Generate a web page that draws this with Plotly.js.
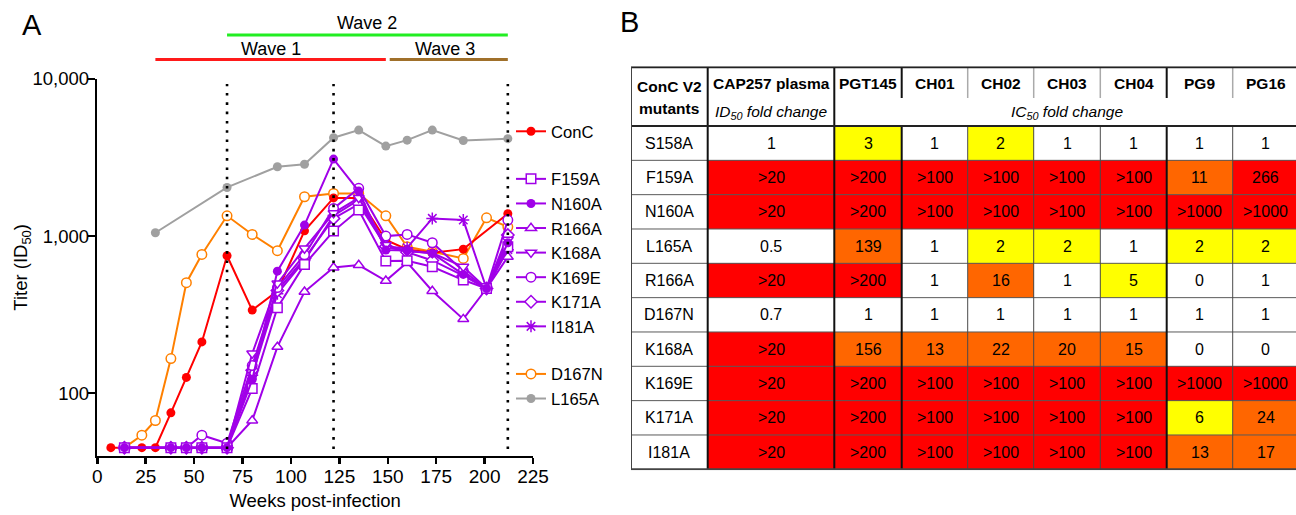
<!DOCTYPE html>
<html>
<head>
<meta charset="utf-8">
<script src="https://cdn.plot.ly/plotly-3.0.1.min.js"></script>
<style>html,body{margin:0;padding:0;background:#fff}#chart{width:1296px;height:515px}</style>
</head>
<body>
<div id="chart"></div>
<script>
// ---------- Panel A data ----------
const weeksConC = [7, 23, 30, 38, 46, 54, 67, 80, 93, 107, 122, 135, 149, 160, 173, 189, 212];
const titerConC = [45, 45, 45, 75, 126, 212, 750, 338, 447, 1080, 1750, 1750, 944, 822, 783, 826, 1387];

const weeksL165A = [30, 67, 93, 107, 122, 135, 149, 160, 173, 189, 212];
const titerL165A = [1050, 2040, 2765, 2865, 4230, 4730, 3740, 4080, 4730, 4060, 4170];

const weeksD167N = [14, 23, 30, 38, 46, 54, 67, 80, 93, 107, 122, 135, 149, 160, 173, 189, 201, 212];
const titerD167N = [45, 54, 67, 166, 505, 764, 1346, 1024, 807, 1780, 1870, 1870, 1346, 855, 795, 721, 1308, 1146];

const weeksPurple = [14, 38, 46, 54, 67, 80, 93, 107, 122, 135, 149, 160, 173, 189, 201, 212];
const titerF159A = [45, 45, 45, 45, 45, 107, 350, 660, 1076, 1465, 693, 696, 638, 525, 464, 855];
const titerN160A = [45, 45, 45, 45, 45, 122, 598, 1175, 3090, 1935, 815, 810, 776, 570, 464, 907];
const titerR166A = [45, 45, 45, 45, 45, 67, 197, 442, 631, 654, 519, 680, 447, 296, 464, 738];
const titerK168A = [45, 45, 45, 45, 45, 179, 500, 835, 1400, 1750, 880, 800, 780, 638, 464, 950];
const titerK169E = [45, 45, 45, 54, 48, 150, 470, 760, 1500, 2013, 1000, 1025, 907, 600, 464, 1265];
const titerK171A = [45, 45, 45, 45, 45, 140, 450, 720, 1296, 1600, 860, 790, 700, 560, 464, 1015];
const titerI181A = [45, 45, 45, 45, 45, 130, 430, 700, 1350, 1700, 850, 843, 1296, 1265, 464, 820];

const xTicks = [0, 25, 50, 75, 100, 125, 150, 175, 200, 225];
const yTickVals = [100, 1000, 10000];
const yTickText = ['100', '1,000', '10,000'];

const dottedWeeks = [67, 122, 212];
const waveNames = ['Wave 1', 'Wave 2', 'Wave 3'];
const waveStart = [30, 67, 151];
const waveEnd = [149, 212, 212];

// ---------- Panel B data ----------
const mutants = ['S158A', 'F159A', 'N160A', 'L165A', 'R166A', 'D167N', 'K168A', 'K169E', 'K171A', 'I181A'];
const columns = ['CAP257 plasma', 'PGT145', 'CH01', 'CH02', 'CH03', 'CH04', 'PG9', 'PG16'];
const cap257 = ['1', '>20', '>20', '0.5', '>20', '0.7', '>20', '>20', '>20', '>20'];
const pgt145 = ['3', '>200', '>200', '139', '>200', '1', '156', '>200', '>200', '>200'];
const ch01 = ['1', '>100', '>100', '1', '1', '1', '13', '>100', '>100', '>100'];
const ch02 = ['2', '>100', '>100', '2', '16', '1', '22', '>100', '>100', '>100'];
const ch03 = ['1', '>100', '>100', '2', '1', '1', '20', '>100', '>100', '>100'];
const ch04 = ['1', '>100', '>100', '1', '5', '1', '15', '>100', '>100', '>100'];
const pg9 = ['1', '11', '>1000', '2', '0', '1', '0', '>1000', '6', '13'];
const pg16 = ['1', '266', '>1000', '2', '1', '1', '0', '>1000', '24', '17'];

// ---------- styling / layout constants ----------
const W = 1296, H = 515;
const FONT = 'Liberation Sans, Arial, sans-serif';
const RED = '#FF0000', PURPLE = '#A000E8', ORANGE = '#FF8000', GRAY = '#A0A0A0';

// table geometry in pixel units (axes x2/y2 are set up in page pixels)
const colEdges = [631, 707.7, 834.3, 901.7, 967.7, 1033.7, 1100.3, 1166.7, 1232.7, 1299];
const tTop = 67.3, hdrMid = 98, hdrBot = 126, tBot = 469.3;

function px(x) { return x / W; }
function py(y) { return (H - y) / H; }

function seriesTrace(name, x, y, symbol, filled, color, group, rank) {
  const open = symbol.indexOf('-open') > 0;
  return {
    type: 'scatter', mode: 'lines+markers', name: name, x: x, y: y,
    xaxis: 'x', yaxis: 'y', legendgroup: group, legendrank: rank,
    line: {color: color, width: 2},
    marker: {
      symbol: symbol, size: filled ? 9 : (open ? 10 : 9.5),
      color: (filled || open) ? color : '#FFFFFF',
      line: {color: color, width: filled ? 0 : 1.5}
    },
    hoverinfo: 'skip'
  };
}

// drawing order (bottom to top); legend order is set by legendrank
const traces = [
  seriesTrace('L165A', weeksL165A, titerL165A, 'circle', true, GRAY, 'c', 10),
  seriesTrace('D167N', weeksD167N, titerD167N, 'circle', false, ORANGE, 'c', 9),
  seriesTrace('ConC', weeksConC, titerConC, 'circle', true, RED, 'a', 1),
  seriesTrace('I181A', weeksPurple, titerI181A, 'asterisk-open', false, PURPLE, 'b', 8),
  seriesTrace('K171A', weeksPurple, titerK171A, 'diamond', false, PURPLE, 'b', 7),
  seriesTrace('K169E', weeksPurple, titerK169E, 'circle', false, PURPLE, 'b', 6),
  seriesTrace('K168A', weeksPurple, titerK168A, 'triangle-down', false, PURPLE, 'b', 5),
  seriesTrace('R166A', weeksPurple, titerR166A, 'triangle-up', false, PURPLE, 'b', 4),
  seriesTrace('F159A', weeksPurple, titerF159A, 'square', false, PURPLE, 'b', 2),
  seriesTrace('N160A', weeksPurple, titerN160A, 'circle', true, PURPLE, 'b', 3)
];

// ---------- table heatmap ----------
const tableCols = [cap257, pgt145, ch01, ch02, ch03, ch04, pg9, pg16];
function level(s) {
  if (s.indexOf('>') === 0) return 3;
  const v = parseFloat(s);
  if (v > 200) return 3;
  if (v >= 10) return 2;
  if (v >= 2) return 1;
  return 0;
}
const rowH = (tBot - hdrBot) / mutants.length;
const rowEdges = [];
for (let i = 0; i <= mutants.length; i++) rowEdges.push(hdrBot + i * rowH);
const z = mutants.map((m, i) => [0].concat(tableCols.map(c => level(c[i]))));

traces.push({
  type: 'heatmap', x: colEdges, y: rowEdges, z: z, xaxis: 'x2', yaxis: 'y2',
  zmin: 0, zmax: 3, showscale: false, hoverinfo: 'skip', showlegend: false,
  colorscale: [[0, '#FFFFFF'], [0.25, '#FFFFFF'], [0.25, '#FFFF00'], [0.5, '#FFFF00'],
               [0.5, '#FF6600'], [0.75, '#FF6600'], [0.75, '#FF0000'], [1, '#FF0000']]
});

const annotations = [];
const shapes = [];

// panel letters
annotations.push({xref: 'paper', yref: 'paper', x: px(32), y: py(25), text: 'A', showarrow: false,
  font: {family: FONT, size: 29, color: '#000'}, xanchor: 'center', yanchor: 'middle'});
annotations.push({xref: 'paper', yref: 'paper', x: px(629), y: py(22), text: 'B', showarrow: false,
  font: {family: FONT, size: 29, color: '#000'}, xanchor: 'center', yanchor: 'middle'});

// waves
const waveColors = ['#FF1A1A', '#22EE22', '#A0702A'];
const waveLineY = [59.5, 35, 59.5];
const waveTextY = [48.5, 23, 48.5];
waveNames.forEach((n, i) => {
  shapes.push({type: 'line', xref: 'x', yref: 'paper', x0: waveStart[i], x1: waveEnd[i],
    y0: py(waveLineY[i]), y1: py(waveLineY[i]), line: {color: waveColors[i], width: 3}});
  annotations.push({xref: 'x', yref: 'paper', x: (waveStart[i] + waveEnd[i]) / 2 - (i === 2 ? 2 : 0),
    y: py(waveTextY[i]), yanchor: 'middle', text: n, showarrow: false,
    font: {family: FONT, size: 18, color: '#000'}});
});

// dotted vertical lines
dottedWeeks.forEach(w => {
  shapes.push({type: 'line', xref: 'x', yref: 'paper', x0: w, x1: w, y0: py(449), y1: py(84),
    line: {color: '#000', width: 2.6, dash: '2.6px,6.7px'}});
});

// table text
function colCenter(j) { return (colEdges[j] + colEdges[j + 1]) / 2; }
const bodyFont = {family: FONT, size: 16, color: '#000'};
mutants.forEach((m, i) => {
  const yc = hdrBot + rowH * (i + 0.5);
  annotations.push({xref: 'x2', yref: 'y2', x: colCenter(0), y: yc, text: m, showarrow: false, font: bodyFont});
  tableCols.forEach((c, j) => {
    annotations.push({xref: 'x2', yref: 'y2', x: colCenter(j + 1), y: yc, text: c[i], showarrow: false, font: bodyFont});
  });
});
const hdrFont = {family: FONT, size: 15.5, color: '#000', weight: 'bold'};
annotations.push({xref: 'x2', yref: 'y2', x: colCenter(0), y: 86.7, text: '<b>ConC V2</b>', showarrow: false, font: hdrFont});
annotations.push({xref: 'x2', yref: 'y2', x: colCenter(0), y: 108.3, text: '<b>mutants</b>', showarrow: false, font: hdrFont});
columns.forEach((c, j) => {
  annotations.push({xref: 'x2', yref: 'y2', x: colCenter(j + 1), y: 83, text: '<b>' + c + '</b>', showarrow: false, font: hdrFont});
});
const itFont = {family: FONT, size: 15.5, color: '#000', style: 'italic'};
annotations.push({xref: 'x2', yref: 'y2', x: colCenter(1), y: 112, text: '<i>ID<sub>50</sub> fold change</i>', showarrow: false, font: itFont});
annotations.push({xref: 'x2', yref: 'y2', x: (colEdges[2] + colEdges[9]) / 2, y: 112, text: '<i>IC<sub>50</sub> fold change</i>', showarrow: false, font: itFont});

// table lines
function tl(x0, y0, x1, y1, color, width) {
  shapes.push({type: 'line', xref: 'x2', yref: 'y2', x0: x0, y0: y0, x1: x1, y1: y1, line: {color: color, width: width}});
}
for (let i = 1; i < mutants.length; i++) tl(colEdges[0], rowEdges[i], colEdges[9], rowEdges[i], '#5a5a5a', 1);
const thickV = [1, 2, 3, 7];
for (let j = 1; j < 9; j++) {
  const thick = thickV.indexOf(j) >= 0;
  tl(colEdges[j], hdrBot, colEdges[j], tBot, thick ? '#111' : '#4a4a4a', thick ? 2 : 1);
}
tl(colEdges[1], tTop, colEdges[1], hdrBot, '#111', 2);
tl(colEdges[2], tTop, colEdges[2], hdrBot, '#111', 2);
tl(colEdges[3], tTop, colEdges[3], hdrMid, '#111', 2);
[4, 5, 6, 8].forEach(j => tl(colEdges[j], tTop, colEdges[j], hdrMid, '#aaaaaa', 1.5));
tl(colEdges[7], tTop, colEdges[7], hdrMid, '#111', 2);
tl(colEdges[0], tTop, colEdges[9], tTop, '#222', 2);
tl(colEdges[0], hdrBot, colEdges[9], hdrBot, '#222', 2);
tl(colEdges[0], tBot, colEdges[9], tBot, '#444', 2);
tl(colEdges[0], tTop, colEdges[0], tBot, '#444', 2);

const layout = {
  width: W, height: H,
  margin: {l: 0, r: 0, t: 0, b: 0},
  paper_bgcolor: '#fff', plot_bgcolor: 'rgba(0,0,0,0)',
  font: {family: FONT, color: '#000'},
  showlegend: true,
  legend: {
    x: px(511), y: py(114), xanchor: 'left', yanchor: 'top',
    traceorder: 'grouped', tracegroupgap: 23,
    font: {family: FONT, size: 16.6, color: '#000'},
    bgcolor: 'rgba(0,0,0,0)', borderwidth: 0, itemclick: false
  },
  xaxis: {
    domain: [px(97.3), px(533)], range: [0, 225], anchor: 'y',
    tickvals: xTicks, ticks: 'outside', ticklen: 6, tickwidth: 2.5, tickcolor: '#000',
    ticklabelstandoff: -4,
    showline: true, linewidth: 2.5, linecolor: '#000', showgrid: false, zeroline: false,
    tickfont: {family: FONT, size: 19, color: '#000'},
    title: {text: 'Weeks post-infection', font: {family: FONT, size: 18.5, color: '#000'}, standoff: 8},
    automargin: false, fixedrange: true
  },
  yaxis: {
    domain: [py(455.7), py(79)], type: 'log', range: [Math.log10(40), 4], anchor: 'x',
    tickvals: yTickVals, ticktext: yTickText, ticks: 'outside', ticklen: 7, tickwidth: 2.5, tickcolor: '#000',
    ticklabelstandoff: -5,
    showline: true, linewidth: 2.5, linecolor: '#000', showgrid: false, zeroline: false,
    tickfont: {family: FONT, size: 18.5, color: '#000'},
    title: {text: 'Titer (ID<sub>50</sub>)', font: {family: FONT, size: 18.5, color: '#000'}, standoff: 0},
    automargin: false, fixedrange: true
  },
  xaxis2: {
    domain: [px(631), 1], range: [631, 1296], anchor: 'y2',
    visible: false, showgrid: false, zeroline: false, fixedrange: true
  },
  yaxis2: {
    domain: [py(tBot + 1), py(tTop - 1)], range: [tBot + 1, tTop - 1], anchor: 'x2',
    visible: false, showgrid: false, zeroline: false, fixedrange: true
  },
  shapes: shapes,
  annotations: annotations
};

Plotly.newPlot('chart', traces, layout, {displayModeBar: false, staticPlot: true});
</script>
</body>
</html>
